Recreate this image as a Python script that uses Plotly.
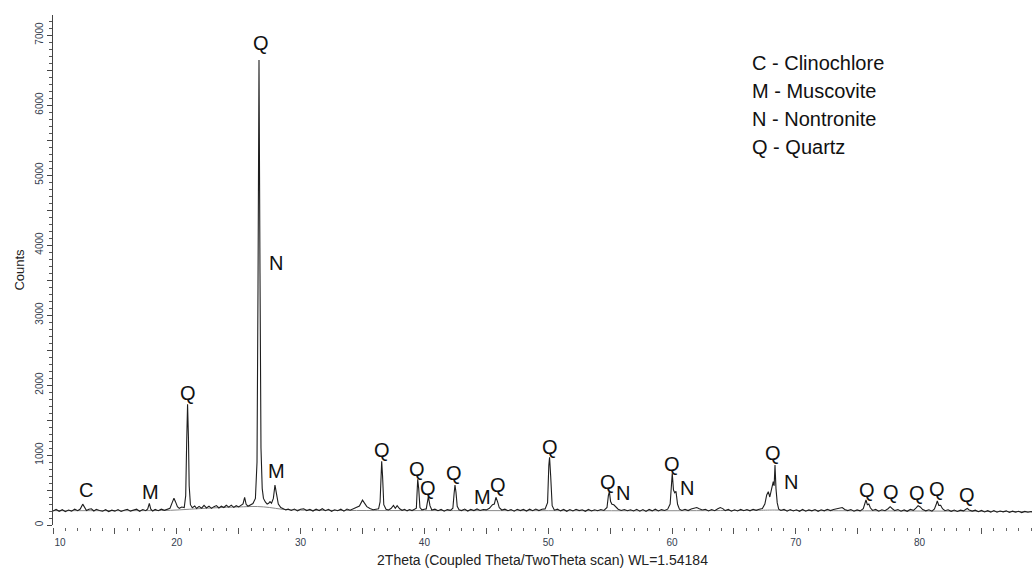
import plotly.graph_objects as go

# ---- measured pattern (2Theta, Counts) ----
two_theta = [
    10.00, 10.25, 10.50, 10.75, 11.00, 11.25, 11.50, 11.75, 12.00, 12.20, 12.40, 12.55, 12.70, 12.90,
    13.10, 13.30, 13.50, 13.75, 14.00, 14.25, 14.50, 14.75, 15.00, 15.25, 15.50, 15.75, 16.00, 16.25,
    16.50, 16.75, 17.00, 17.25, 17.50, 17.65, 17.78, 17.90, 18.05, 18.25, 18.50, 18.75, 19.00, 19.25,
    19.45, 19.65, 19.77, 19.90, 20.05, 20.20, 20.40, 20.60, 20.72, 20.80, 20.87, 20.94, 21.00, 21.10,
    21.25, 21.45, 21.60, 21.80, 22.00, 22.20, 22.40, 22.60, 22.80, 23.00, 23.20, 23.40, 23.60, 23.80,
    24.00, 24.20, 24.40, 24.60, 24.80, 25.00, 25.20, 25.35, 25.48, 25.60, 25.75, 25.95, 26.15, 26.35,
    26.48, 26.56, 26.64, 26.72, 26.80, 26.90, 27.00, 27.15, 27.30, 27.42, 27.53, 27.65, 27.80, 27.93,
    28.05, 28.20, 28.40, 28.60, 28.80, 29.00, 29.25, 29.50, 29.75, 30.00, 30.25, 30.50, 30.75, 31.00,
    31.25, 31.50, 31.75, 32.00, 32.25, 32.50, 32.75, 33.00, 33.25, 33.50, 33.75, 34.00, 34.25, 34.50,
    34.75, 35.00, 35.15, 35.35, 35.60, 35.85, 36.10, 36.30, 36.42, 36.50, 36.55, 36.62, 36.72, 36.90,
    37.10, 37.30, 37.50, 37.65, 37.80, 38.00, 38.20, 38.40, 38.60, 38.80, 39.00, 39.20, 39.35, 39.46,
    39.54, 39.64, 39.80, 40.00, 40.15, 40.32, 40.45, 40.60, 40.85, 41.10, 41.35, 41.60, 41.85, 42.10,
    42.30, 42.40, 42.47, 42.55, 42.65, 42.80, 43.00, 43.25, 43.50, 43.75, 44.00, 44.25, 44.50, 44.75,
    45.00, 45.25, 45.50, 45.65, 45.78, 45.92, 46.05, 46.25, 46.50, 46.75, 47.00, 47.25, 47.50, 47.75,
    48.00, 48.25, 48.50, 48.75, 49.00, 49.25, 49.50, 49.75, 49.95, 50.05, 50.11, 50.20, 50.32, 50.50,
    50.75, 51.00, 51.25, 51.50, 51.75, 52.00, 52.25, 52.50, 52.75, 53.00, 53.25, 53.50, 53.75, 54.00,
    54.25, 54.50, 54.75, 54.86, 54.94, 55.04, 55.15, 55.30, 55.45, 55.65, 55.90, 56.15, 56.40, 56.65,
    56.90, 57.15, 57.40, 57.65, 57.90, 58.15, 58.40, 58.65, 58.90, 59.15, 59.40, 59.65, 59.85, 59.95,
    60.02, 60.12, 60.22, 60.32, 60.45, 60.60, 60.80, 61.05, 61.30, 61.55, 61.80, 62.00, 62.20, 62.45,
    62.70, 62.95, 63.20, 63.45, 63.70, 63.90, 64.10, 64.30, 64.55, 64.80, 65.05, 65.30, 65.55, 65.80,
    66.05, 66.30, 66.55, 66.80, 67.05, 67.30, 67.50, 67.65, 67.78, 67.90, 68.05, 68.18, 68.25, 68.32,
    68.40, 68.50, 68.62, 68.80, 69.05, 69.30, 69.55, 69.80, 70.05, 70.30, 70.55, 70.80, 71.05, 71.30,
    71.55, 71.80, 72.05, 72.30, 72.55, 72.80, 73.05, 73.30, 73.55, 73.75, 73.95, 74.20, 74.45, 74.70,
    74.95, 75.20, 75.45, 75.60, 75.67, 75.78, 75.90, 76.02, 76.20, 76.45, 76.70, 76.95, 77.20, 77.45,
    77.62, 77.80, 78.00, 78.25, 78.50, 78.75, 79.00, 79.25, 79.50, 79.70, 79.88, 80.05, 80.25, 80.50,
    80.75, 81.00, 81.20, 81.35, 81.43, 81.55, 81.70, 81.85, 82.05, 82.30, 82.55, 82.80, 83.05, 83.30,
    83.55, 83.75, 83.85, 84.00, 84.25, 84.50, 84.75, 85.00, 85.25, 85.50, 85.75, 86.00, 86.25, 86.50,
    86.75, 87.00, 87.25, 87.50, 87.75, 88.00, 88.25, 88.50, 88.75, 89.00, 89.25, 89.50,
]
counts = [
    200, 222, 196, 218, 190, 214, 198, 226, 204, 228, 298, 246, 208, 226,
    232, 200, 224, 206, 196, 218, 192, 212, 198, 220, 194, 210, 224, 198,
    214, 226, 196, 220, 204, 230, 310, 226, 200, 222, 204, 226, 210, 232,
    240, 330, 381, 330, 262, 238, 256, 250, 420, 1200, 1724, 1250, 560, 290,
    246, 272, 236, 266, 240, 280, 244, 270, 238, 262, 278, 244, 268, 250,
    282, 256, 284, 252, 276, 258, 288, 300, 393, 296, 268, 292, 306, 380,
    900, 3400, 6643, 3600, 1100, 520, 380, 330, 300, 310, 333, 310, 380, 571,
    420, 300, 250, 236, 216, 226, 208, 228, 202, 224, 232, 206, 222, 200,
    226, 206, 232, 204, 224, 196, 218, 204, 226, 198, 228, 212, 232, 244,
    270, 355, 318, 262, 236, 218, 226, 232, 330, 760, 910, 700, 290, 224,
    214, 236, 280, 238, 275, 232, 210, 224, 202, 220, 206, 224, 240, 653,
    520, 250, 216, 226, 230, 405, 276, 214, 226, 204, 222, 198, 220, 210,
    240, 450, 571, 470, 266, 218, 206, 228, 200, 222, 206, 230, 208, 222,
    216, 238, 290, 300, 396, 326, 246, 214, 226, 204, 220, 198, 224, 206,
    222, 200, 226, 204, 228, 206, 224, 230, 320, 850, 967, 700, 276, 212,
    226, 202, 222, 196, 220, 200, 224, 206, 218, 196, 222, 200, 218, 204,
    222, 208, 250, 420, 476, 336, 296, 288, 256, 226, 208, 222, 204, 218,
    200, 224, 198, 220, 194, 222, 202, 226, 200, 220, 208, 226, 300, 640,
    738, 500, 460, 480, 296, 226, 208, 224, 206, 230, 238, 250, 232, 214,
    224, 200, 220, 204, 232, 250, 234, 206, 222, 198, 218, 200, 222, 204,
    220, 202, 224, 210, 226, 236, 300, 430, 476, 400, 520, 619, 560, 857,
    520, 316, 226, 208, 222, 198, 220, 200, 218, 196, 222, 198, 216, 202,
    220, 196, 218, 202, 224, 206, 222, 230, 244, 250, 222, 206, 220, 198,
    216, 202, 232, 330, 357, 290, 300, 246, 208, 222, 198, 218, 204, 232,
    262, 232, 206, 220, 198, 216, 196, 222, 210, 240, 276, 258, 220, 202,
    218, 198, 228, 300, 343, 280, 282, 232, 204, 218, 196, 214, 194, 212,
    202, 226, 238, 214, 198, 212, 190, 208, 186, 204, 184, 206, 182, 200,
    188, 202, 180, 198, 184, 196, 178, 194, 182, 192, 176, 190,
]

# ---- fitted background curve ----
bg_theta = [10, 15, 18, 19.5, 21, 23, 25, 26.5, 27.5, 28.5, 30, 33, 40, 50, 60, 67, 68.3, 69.5, 75, 85, 89.5]
bg_counts = [205, 205, 206, 210, 225, 245, 258, 264, 250, 225, 212, 208, 206, 205, 204, 210, 214, 208, 203, 196, 188]

# ---- phase labels (2Theta, Counts position of the letter) ----
label_text = ["C", "M", "Q", "Q", "N", "M", "Q", "Q", "Q", "Q", "M", "Q",
              "Q", "Q", "N", "Q", "N", "Q", "N", "Q", "Q", "Q", "Q", "Q"]
label_theta = [12.67, 17.84, 20.88, 26.80, 28.01, 28.07, 36.55, 39.43, 40.32, 42.42, 44.71, 45.97,
               50.15, 54.86, 56.02, 60.00, 61.24, 68.18, 69.59, 75.73, 77.66, 79.81, 81.38, 83.80]
label_counts = [500, 471, 1890, 6890, 3739, 776, 1071, 796, 524, 739, 396, 571,
                1110, 619, 453, 871, 524, 1024, 619, 500, 476, 453, 510, 429]

legend_lines = ["C - Clinochlore", "M - Muscovite", "N - Nontronite", "Q - Quartz"]

x_ticks = [10, 15, 20, 25, 30, 35, 40, 45, 50, 55, 60, 65, 70, 75, 80, 85]
x_tick_text = ["\u00a0" * 5 + "10", "", "20", "", "30", "", "40", "", "50", "", "60", "", "70", "", "80", ""]
y_ticks = [0, 500, 1000, 1500, 2000, 2500, 3000, 3500, 4000, 4500, 5000, 5500, 6000, 6500, 7000]
y_tick_text = ["0", "", "1000", "", "2000", "", "3000", "", "4000", "", "5000", "", "6000", "", "7000"]

FONT = "Liberation Sans, Arial, sans-serif"
W, H = 1032, 569
L, R, T, B = 53, 0, 15, 42
plot_w = W - L - R
plot_h = H - T - B
y_dom0 = 2 / plot_h

fig = go.Figure()
fig.add_trace(go.Scatter(x=bg_theta, y=bg_counts, mode="lines", line=dict(color="#8a8a8a", width=1, shape="spline"),
                         hoverinfo="skip", showlegend=False))
fig.add_trace(go.Scatter(x=two_theta, y=counts, mode="lines", line=dict(color="#1e1e1e", width=1.1),
                         showlegend=False))

for t, xv, yv in zip(label_text, label_theta, label_counts):
    fig.add_annotation(x=xv, y=yv, text=t, showarrow=False, xanchor="center", yanchor="middle",
                       font=dict(family=FONT, size=20, color="#111111"))

legend_px_x = 750
legend_px_y = [63, 91, 119, 147]
for txt, py in zip(legend_lines, legend_px_y):
    fig.add_annotation(xref="paper", yref="paper", x=(legend_px_x - L) / plot_w, y=(H - B - py) / plot_h,
                       text=txt, showarrow=False, xanchor="left", yanchor="middle",
                       font=dict(family=FONT, size=20, color="#111111"))

fig.update_layout(
    width=W, height=H,
    margin=dict(l=L, r=R, t=T, b=B, pad=0),
    paper_bgcolor="white", plot_bgcolor="white",
    font=dict(family=FONT, color="#333333"),
    xaxis=dict(
        range=[10, 10 + plot_w / 12.38], showgrid=False, zeroline=False, showline=False,
        anchor="free", position=0,
        tickmode="array", tickvals=x_ticks, ticktext=x_tick_text,
        ticks="outside", ticklen=6, tickwidth=1, tickcolor="#555555",
        minor=dict(dtick=1, ticklen=3, tickcolor="#666666", ticks="outside", showgrid=False),
        tickfont=dict(size=10, color="#34404f"),
        title=dict(text="2Theta (Coupled Theta/TwoTheta scan) WL=1.54184",
                   font=dict(size=14, color="#222222"), standoff=8),
        automargin=False,
    ),
    yaxis=dict(
        domain=[y_dom0, 1], range=[0, (plot_h - 2) / 0.07],
        showgrid=False, zeroline=False, showline=True, linecolor="#444444", linewidth=1,
        tickmode="array", tickvals=y_ticks, ticktext=y_tick_text,
        ticks="outside", ticklen=5, tickwidth=1, tickcolor="#444444",
        minor=dict(dtick=100, ticklen=3, tickcolor="#555555", ticks="outside", showgrid=False),
        tickangle=-90, tickfont=dict(size=10, color="#34404f"),
        title=dict(text="Counts", font=dict(size=13, color="#222222"), standoff=6),
        automargin=False,
    ),
)

fig.write_html("out.html", config={"displayModeBar": False},
               post_script="document.body.style.margin='0';document.body.style.overflow='hidden';")
